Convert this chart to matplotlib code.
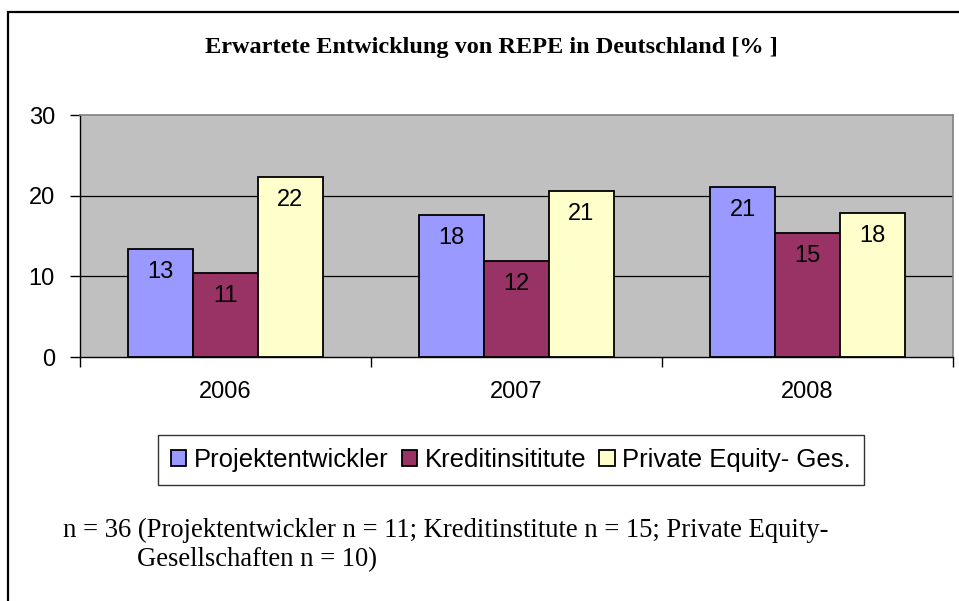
import matplotlib
matplotlib.use("Agg")
from matplotlib import pyplot as plt
from matplotlib.patches import Rectangle
import numpy as np

# Werte
years = ["2006", "2007", "2008"]
series_names = ["Projektentwickler", "Kreditinsititute", "Private Equity- Ges."]
projekt = [13.4, 17.6, 21.1]
kredit = [10.4, 11.9, 15.4]
private_eq = [22.3, 20.6, 17.8]
projekt_lbl = ["13", "18", "21"]
kredit_lbl = ["11", "12", "15"]
private_lbl = ["22", "21", "18"]
yticks = [0, 10, 20, 30]

colors = ["#9999FF", "#993366", "#FFFFCC"]
W, H = 959, 601

fig = plt.figure(figsize=(W / 100, H / 100), dpi=100)
ax = fig.add_axes([80 / W, 1 - 357 / H, (953 - 80) / W, (357 - 115) / H])
ax.set_facecolor("#C0C0C0")

x = np.arange(len(years))
bw = 0.223
values = [projekt, kredit, private_eq]
labels = [projekt_lbl, kredit_lbl, private_lbl]
for i, (vals, lbls) in enumerate(zip(values, labels)):
    bars = ax.bar(x + (i - 1) * bw, vals, width=bw, color=colors[i],
                  edgecolor="black", linewidth=1.3, zorder=3, label=series_names[i])
    for b, l in zip(bars, lbls):
        ax.annotate(l, (b.get_x() + b.get_width() / 2, b.get_height()),
                    xytext=(0, -23), textcoords="offset pixels",
                    ha="center", va="center", fontsize=17,
                    family="Liberation Sans", zorder=4)

ax.set_xlim(-0.5, 2.5)
ax.set_ylim(0, 30)
ax.set_yticks(yticks)
ax.set_yticklabels([str(t) for t in yticks], family="Liberation Sans", fontsize=17)
for t in [10, 20]:
    ax.axhline(t, color="black", linewidth=0.9, zorder=2)

# Kategorie-Ticks an den Grenzen, Beschriftung in der Mitte
ax.set_xticks([-0.5, 0.5, 1.5, 2.5])
ax.set_xticklabels([])
ax.set_xticks(x, minor=True)
ax.set_xticklabels(years, minor=True, family="Liberation Sans", fontsize=17)
ax.tick_params(axis="x", which="minor", length=0, pad=17)
ax.tick_params(axis="x", which="major", direction="out", length=7, width=1)
ax.tick_params(axis="y", direction="out", length=7, width=1, pad=11)

for s in ["top", "right"]:
    ax.spines[s].set_color("#808080")
    ax.spines[s].set_linewidth(1.2)
for s in ["left", "bottom"]:
    ax.spines[s].set_color("black")
    ax.spines[s].set_linewidth(1.0)

fig.text(491 / W, 1 - 48 / H, "Erwartete Entwicklung von REPE in Deutschland [% ]",
         ha="center", va="center", fontsize=17.5, fontweight="bold",
         family="Liberation Serif")

leg = fig.legend(loc="center", bbox_to_anchor=(511 / W, 1 - 460 / H), ncol=3,
                 prop={"family": "Liberation Sans", "size": 18.5},
                 frameon=True, fancybox=False, shadow=False,
                 handlelength=0.6, handleheight=0.6, handletextpad=0.3,
                 columnspacing=0.5, borderpad=0.5, borderaxespad=0)
leg.get_frame().set_edgecolor("black")
leg.get_frame().set_linewidth(1.0)

fig.text(63 / W, 1 - 530 / H,
         "n = 36 (Projektentwickler n = 11; Kreditinstitute n = 15; Private Equity-",
         ha="left", va="center", fontsize=19.2, family="Liberation Serif")
fig.text(137 / W, 1 - 560 / H, "Gesellschaften n = 10)",
         ha="left", va="center", fontsize=19.2, family="Liberation Serif")

# Rahmen um das Diagramm
fig.patches.append(Rectangle((8 / W, -0.1), 1.2, 1 - 12 / H + 0.1,
                             transform=fig.transFigure, fill=False,
                             edgecolor="black", linewidth=1.6))

fig.savefig("out.png", dpi=100)
